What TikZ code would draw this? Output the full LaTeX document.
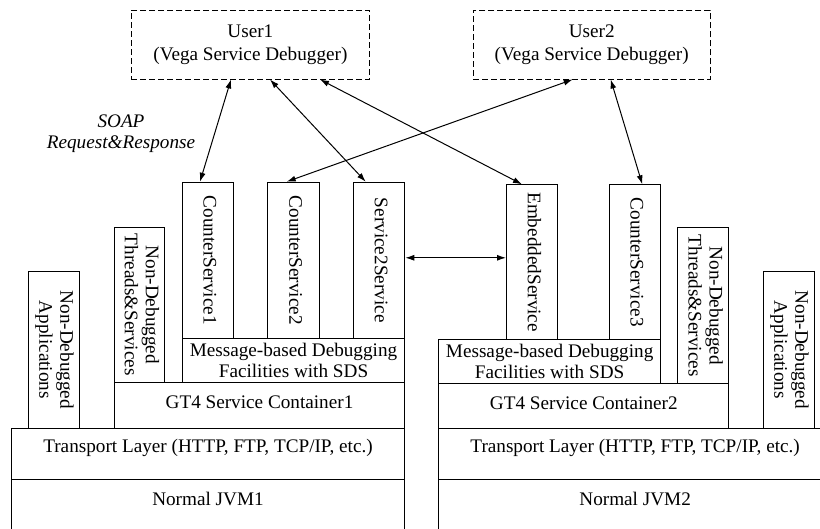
\documentclass[tikz,border=0pt]{standalone}
\usepackage{fontspec}
\setmainfont{Liberation Serif}
\usetikzlibrary{arrows.meta}
\newcommand{\bigfnt}{\fontsize{19.2}{21}\selectfont}
\newcommand{\userfnt}{\fontsize{19.2}{23.5}\selectfont}
\newcommand{\vtxt}[1]{\rotatebox{-90}{\begin{tabular}{@{}c@{}}#1\end{tabular}}}
\begin{document}
\begin{tikzpicture}[x=1pt,y=-1pt,
  box/.style={draw, line width=1pt, rectangle, inner sep=0pt, anchor=north west, font=\bigfnt, align=center},
  user/.style={box, dash pattern=on 6pt off 3pt, line width=0.8pt, font=\userfnt},
  arr/.style={{Latex[length=9pt,width=6pt]}-{Latex[length=9pt,width=6pt]}, line width=1pt},
  lbl/.style={font=\bigfnt, inner sep=0pt}]
\useasboundingbox (0,0) rectangle (820,529);
\clip (0,0) rectangle (820,529);

% users
\node[user, minimum width=238.6pt, minimum height=68.7pt] (u1) at (130.7,10) {User1\\(Vega Service Debugger)};
\node[user, minimum width=237.3pt, minimum height=68.7pt] (u2) at (472.7,10) {User2\\(Vega Service Debugger)};

\node[lbl, font={\bigfnt\itshape}, align=center] (soap) at (121,134) {SOAP\\Request\&Response};

% left JVM
\node[box, minimum width=51.3pt, minimum height=156pt] (cs1) at (181.7,181.7) {\vtxt{CounterService1}};
\node[box, minimum width=51.4pt, minimum height=156pt] (cs2) at (267.3,181.7) {\vtxt{CounterService2}};
\node[box, minimum width=51.3pt, minimum height=156pt] (s2s) at (353,181.7) {\vtxt{Service2Service}};
\node[box, minimum width=222.6pt, minimum height=44.3pt] (mb1) at (181.7,337.7) {Message-based Debugging\\Facilities with SDS};
\node[box, minimum width=290.6pt, minimum height=45.7pt] (gt1) at (113.7,382) {\raisebox{6pt}{GT4 Service Container1}};
\node[box, minimum width=50.6pt, minimum height=155.3pt] (ndt1) at (113.7,226.7) {\vtxt{Non-Debugged\\Threads\&Services}};
\node[box, minimum width=51.6pt, minimum height=156.7pt] (nda1) at (27.7,271) {\vtxt{Non-Debugged\\Applications}};
\node[box, minimum width=393.6pt, minimum height=51.6pt] (tl1) at (10.7,427.7) {};
\node[lbl] (tl1t) at ([yshift=-20.6pt]tl1.north) {Transport Layer (HTTP, FTP, TCP/IP, etc.)};
\node[box, minimum width=393.6pt, minimum height=80pt] (jvm1) at (10.7,479.3) {};
\node[lbl] (jvm1t) at ([yshift=-20pt]jvm1.north) {Normal JVM1};

% right JVM
\node[box, minimum width=51.3pt, minimum height=154.7pt] (es) at (506,184.3) {\vtxt{EmbeddedService}};
\node[box, minimum width=51.3pt, minimum height=154.7pt] (cs3) at (608.7,184.3) {\vtxt{CounterService3}};
\node[box, minimum width=221.7pt, minimum height=44.3pt] (mb2) at (438.3,339) {Message-based Debugging\\Facilities with SDS};
\node[box, minimum width=290pt, minimum height=44.4pt] (gt2) at (438.3,383.3) {\raisebox{6pt}{GT4 Service Container2}};
\node[box, minimum width=51pt, minimum height=156pt] (ndt2) at (677.3,227.3) {\vtxt{Non-Debugged\\Threads\&Services}};
\node[box, minimum width=51.6pt, minimum height=156.7pt] (nda2) at (762.7,271) {\vtxt{Non-Debugged\\Applications}};
\node[box, minimum width=392.7pt, minimum height=51.6pt] (tl2) at (438.3,427.7) {};
\node[lbl] (tl2t) at ([yshift=-20.6pt]tl2.north) {Transport Layer (HTTP, FTP, TCP/IP, etc.)};
\node[box, minimum width=392.7pt, minimum height=80pt] (jvm2) at (438.3,479.3) {};
\node[lbl] (jvm2t) at ([yshift=-20pt]jvm2.north) {Normal JVM2};

% connectors
\draw[arr] ([xshift=100.3pt]u1.south west) -- ([xshift=18.3pt]cs1.north west);
\draw[arr] ([xshift=139.3pt]u1.south west) -- ([xshift=12.7pt]s2s.north west);
\draw[arr] ([xshift=189.3pt]u1.south west) -- ([xshift=16pt]es.north west);
\draw[arr] ([xshift=100pt]u2.south west) -- ([xshift=19.4pt]cs2.north west);
\draw[arr] ([xshift=138pt]u2.south west) -- ([xshift=33.6pt]cs3.north west);
\draw[arr] ([yshift=2.4pt]s2s.east) -- ([yshift=2.4pt]s2s.east -| es.west);
\end{tikzpicture}
\end{document}
